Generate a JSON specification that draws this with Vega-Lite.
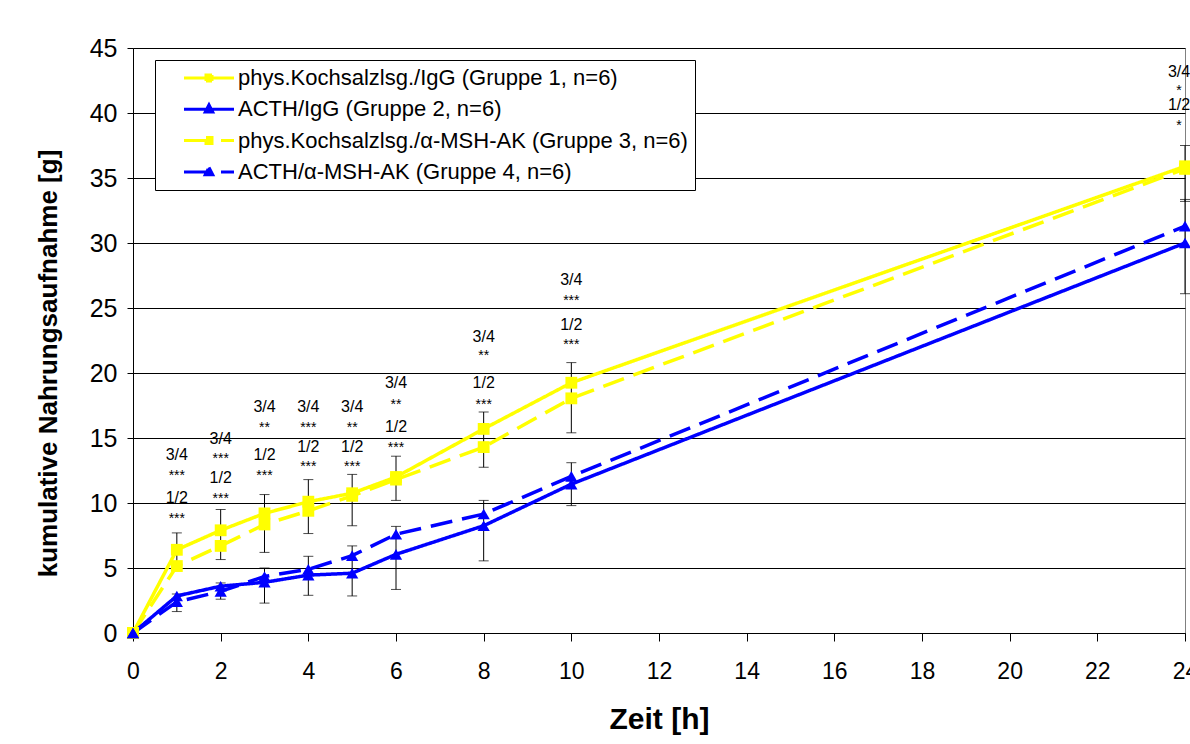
{
  "$schema": "https://vega.github.io/schema/vega-lite/v6.json",
  "width": 1052,
  "height": 585,
  "autosize": "none",
  "padding": {"left": 133, "top": 48, "right": 5, "bottom": 111},
  "background": "white",
  "config": {
    "font": "Liberation Sans",
    "view": {"stroke": "#808080", "strokeWidth": 1}
  },
  "datasets": {
    "main": [
      {"t": 0, "v": 0, "g": "phys.Kochsalzlsg./IgG (Gruppe 1, n=6)"},
      {"t": 1, "v": 6.4, "g": "phys.Kochsalzlsg./IgG (Gruppe 1, n=6)"},
      {"t": 2, "v": 7.9, "g": "phys.Kochsalzlsg./IgG (Gruppe 1, n=6)"},
      {"t": 3, "v": 9.2, "g": "phys.Kochsalzlsg./IgG (Gruppe 1, n=6)"},
      {"t": 4, "v": 10.1, "g": "phys.Kochsalzlsg./IgG (Gruppe 1, n=6)"},
      {"t": 5, "v": 10.75, "g": "phys.Kochsalzlsg./IgG (Gruppe 1, n=6)"},
      {"t": 6, "v": 12.0, "g": "phys.Kochsalzlsg./IgG (Gruppe 1, n=6)"},
      {"t": 8, "v": 15.7, "g": "phys.Kochsalzlsg./IgG (Gruppe 1, n=6)"},
      {"t": 10, "v": 19.25, "g": "phys.Kochsalzlsg./IgG (Gruppe 1, n=6)"},
      {"t": 24, "v": 35.9, "g": "phys.Kochsalzlsg./IgG (Gruppe 1, n=6)"},
      {"t": 0, "v": 0, "g": "phys.Kochsalzlsg./α-MSH-AK (Gruppe 3, n=6)"},
      {"t": 1, "v": 5.15, "g": "phys.Kochsalzlsg./α-MSH-AK (Gruppe 3, n=6)"},
      {"t": 2, "v": 6.7, "g": "phys.Kochsalzlsg./α-MSH-AK (Gruppe 3, n=6)"},
      {"t": 3, "v": 8.35, "g": "phys.Kochsalzlsg./α-MSH-AK (Gruppe 3, n=6)"},
      {"t": 4, "v": 9.4, "g": "phys.Kochsalzlsg./α-MSH-AK (Gruppe 3, n=6)"},
      {"t": 5, "v": 10.55, "g": "phys.Kochsalzlsg./α-MSH-AK (Gruppe 3, n=6)"},
      {"t": 6, "v": 11.8, "g": "phys.Kochsalzlsg./α-MSH-AK (Gruppe 3, n=6)"},
      {"t": 8, "v": 14.3, "g": "phys.Kochsalzlsg./α-MSH-AK (Gruppe 3, n=6)"},
      {"t": 10, "v": 18.05, "g": "phys.Kochsalzlsg./α-MSH-AK (Gruppe 3, n=6)"},
      {"t": 24, "v": 35.7, "g": "phys.Kochsalzlsg./α-MSH-AK (Gruppe 3, n=6)"},
      {"t": 0, "v": 0, "g": "ACTH/α-MSH-AK (Gruppe 4, n=6)"},
      {"t": 1, "v": 2.4, "g": "ACTH/α-MSH-AK (Gruppe 4, n=6)"},
      {"t": 2, "v": 3.2, "g": "ACTH/α-MSH-AK (Gruppe 4, n=6)"},
      {"t": 3, "v": 4.35, "g": "ACTH/α-MSH-AK (Gruppe 4, n=6)"},
      {"t": 4, "v": 4.9, "g": "ACTH/α-MSH-AK (Gruppe 4, n=6)"},
      {"t": 5, "v": 5.95, "g": "ACTH/α-MSH-AK (Gruppe 4, n=6)"},
      {"t": 6, "v": 7.6, "g": "ACTH/α-MSH-AK (Gruppe 4, n=6)"},
      {"t": 8, "v": 9.15, "g": "ACTH/α-MSH-AK (Gruppe 4, n=6)"},
      {"t": 10, "v": 12.05, "g": "ACTH/α-MSH-AK (Gruppe 4, n=6)"},
      {"t": 24, "v": 31.3, "g": "ACTH/α-MSH-AK (Gruppe 4, n=6)"},
      {"t": 0, "v": 0, "g": "ACTH/IgG (Gruppe 2, n=6)"},
      {"t": 1, "v": 2.85, "g": "ACTH/IgG (Gruppe 2, n=6)"},
      {"t": 2, "v": 3.6, "g": "ACTH/IgG (Gruppe 2, n=6)"},
      {"t": 3, "v": 3.9, "g": "ACTH/IgG (Gruppe 2, n=6)"},
      {"t": 4, "v": 4.45, "g": "ACTH/IgG (Gruppe 2, n=6)"},
      {"t": 5, "v": 4.6, "g": "ACTH/IgG (Gruppe 2, n=6)"},
      {"t": 6, "v": 6.05, "g": "ACTH/IgG (Gruppe 2, n=6)"},
      {"t": 8, "v": 8.25, "g": "ACTH/IgG (Gruppe 2, n=6)"},
      {"t": 10, "v": 11.45, "g": "ACTH/IgG (Gruppe 2, n=6)"},
      {"t": 24, "v": 30.0, "g": "ACTH/IgG (Gruppe 2, n=6)"}
    ],
    "err": [
      {"t": 1, "lo": 5.0, "hi": 7.7},
      {"t": 2, "lo": 5.65, "hi": 9.5},
      {"t": 3, "lo": 6.2, "hi": 10.65},
      {"t": 4, "lo": 7.65, "hi": 11.8},
      {"t": 5, "lo": 8.25, "hi": 12.2},
      {"t": 6, "lo": 10.2, "hi": 13.6},
      {"t": 8, "lo": 12.75, "hi": 17.0},
      {"t": 10, "lo": 15.4, "hi": 20.8},
      {"t": 24, "lo": 33.2, "hi": 37.5},
      {"t": 1, "lo": 1.65, "hi": 3.0},
      {"t": 2, "lo": 2.6, "hi": 3.85},
      {"t": 3, "lo": 2.3, "hi": 5.0},
      {"t": 4, "lo": 2.9, "hi": 5.9},
      {"t": 5, "lo": 2.85, "hi": 6.7},
      {"t": 6, "lo": 3.35, "hi": 8.2},
      {"t": 8, "lo": 5.55, "hi": 10.2},
      {"t": 10, "lo": 9.8, "hi": 13.1},
      {"t": 24, "lo": 26.1, "hi": 33.35}
    ],
    "frac": [
      {"t": 1, "y": 13.69, "a": "3/4"}, {"t": 1, "y": 10.38, "a": "1/2"},
      {"t": 2, "y": 14.92, "a": "3/4"}, {"t": 2, "y": 11.92, "a": "1/2"},
      {"t": 3, "y": 17.38, "a": "3/4"}, {"t": 3, "y": 13.69, "a": "1/2"},
      {"t": 4, "y": 17.38, "a": "3/4"}, {"t": 4, "y": 14.31, "a": "1/2"},
      {"t": 5, "y": 17.38, "a": "3/4"}, {"t": 5, "y": 14.31, "a": "1/2"},
      {"t": 6, "y": 19.23, "a": "3/4"}, {"t": 6, "y": 15.85, "a": "1/2"},
      {"t": 8, "y": 22.77, "a": "3/4"}, {"t": 8, "y": 19.23, "a": "1/2"},
      {"t": 10, "y": 27.15, "a": "3/4"}, {"t": 10, "y": 23.69, "a": "1/2"}
    ],
    "star": [
      {"t": 1, "y": 12.31, "a": "***"}, {"t": 1, "y": 9.0, "a": "***"},
      {"t": 2, "y": 13.62, "a": "***"}, {"t": 2, "y": 10.54, "a": "***"},
      {"t": 3, "y": 16.0, "a": "**"}, {"t": 3, "y": 12.31, "a": "***"},
      {"t": 4, "y": 16.0, "a": "***"}, {"t": 4, "y": 13.0, "a": "***"},
      {"t": 5, "y": 16.0, "a": "**"}, {"t": 5, "y": 13.0, "a": "***"},
      {"t": 6, "y": 17.77, "a": "**"}, {"t": 6, "y": 14.46, "a": "***"},
      {"t": 8, "y": 21.54, "a": "**"}, {"t": 8, "y": 17.77, "a": "***"},
      {"t": 10, "y": 25.77, "a": "***"}, {"t": 10, "y": 22.38, "a": "***"}
    ],
    "frac24": [
      {"t": 24, "y": 43.15, "a": "3/4"}, {"t": 24, "y": 40.62, "a": "1/2"}
    ],
    "star24": [
      {"t": 24, "y": 41.92, "a": "*"}, {"t": 24, "y": 39.23, "a": "*"}
    ]
  },
  "layer": [
    {
      "data": {"name": "err"},
      "mark": {"type": "rule", "color": "black", "strokeWidth": 1},
      "encoding": {
        "x": {"field": "t", "type": "quantitative", "scale": {"domain": [0, 24], "nice": false}},
        "y": {"field": "lo", "type": "quantitative", "scale": {"domain": [0, 45], "nice": false}},
        "y2": {"field": "hi"}
      }
    },
    {
      "data": {"name": "err"},
      "mark": {"type": "tick", "orient": "horizontal", "color": "black", "size": 10, "thickness": 1},
      "encoding": {
        "x": {"field": "t", "type": "quantitative"},
        "y": {"field": "lo", "type": "quantitative"}
      }
    },
    {
      "data": {"name": "err"},
      "mark": {"type": "tick", "orient": "horizontal", "color": "black", "size": 10, "thickness": 1},
      "encoding": {
        "x": {"field": "t", "type": "quantitative"},
        "y": {"field": "hi", "type": "quantitative"}
      }
    },
    {
      "data": {"name": "main"},
      "mark": {"type": "line", "strokeWidth": 3.5},
      "encoding": {
        "x": {
          "field": "t", "type": "quantitative", "title": "Zeit [h]",
          "axis": {
            "values": [0, 2, 4, 6, 8, 10, 12, 14, 16, 18, 20, 22, 24],
            "grid": false, "domainColor": "black", "tickColor": "black", "tickSize": 8,
            "labelFontSize": 23, "labelColor": "black",
            "labelPadding": 19, "labelFlush": false,
            "titleFontSize": 30, "titleFontWeight": "bold",
            "titleColor": "black", "titlePadding": 21
          }
        },
        "y": {
          "field": "v", "type": "quantitative", "title": "kumulative Nahrungsaufnahme [g]",
          "axis": {
            "values": [0, 5, 10, 15, 20, 25, 30, 35, 40, 45],
            "grid": true, "gridColor": "black", "gridWidth": 1, "gridOpacity": 1,
            "domainColor": "black", "tickColor": "black", "tickSize": 6,
            "labelFontSize": 25, "labelColor": "black", "labelPadding": 10,
            "titleFontSize": 26, "titleFontWeight": "bold", "titleColor": "black", "titlePadding": 28,
            "titleY": 315
          }
        },
        "color": {
          "field": "g", "type": "nominal",
          "scale": {
            "domain": ["phys.Kochsalzlsg./IgG (Gruppe 1, n=6)", "ACTH/IgG (Gruppe 2, n=6)", "phys.Kochsalzlsg./α-MSH-AK (Gruppe 3, n=6)", "ACTH/α-MSH-AK (Gruppe 4, n=6)"],
            "range": ["#FFFF00", "#0000FF", "#FFFF00", "#0000FF"]
          }
        },
        "strokeDash": {
          "field": "g", "type": "nominal",
          "scale": {
            "domain": ["phys.Kochsalzlsg./IgG (Gruppe 1, n=6)", "ACTH/IgG (Gruppe 2, n=6)", "phys.Kochsalzlsg./α-MSH-AK (Gruppe 3, n=6)", "ACTH/α-MSH-AK (Gruppe 4, n=6)"],
            "range": [[1, 0], [1, 0], [22, 10], [22, 10]]
          },
          "legend": null
        }
      }
    },
    {
      "data": {"name": "main"},
      "transform": [{"filter": {"field": "g", "oneOf": ["phys.Kochsalzlsg./IgG (Gruppe 1, n=6)", "phys.Kochsalzlsg./α-MSH-AK (Gruppe 3, n=6)"]}}],
      "mark": {"type": "point", "filled": true, "opacity": 1, "size": 140, "shape": "square"},
      "encoding": {
        "x": {"field": "t", "type": "quantitative"},
        "y": {"field": "v", "type": "quantitative"},
        "color": {"field": "g", "type": "nominal"}
      }
    },
    {
      "data": {"name": "main"},
      "transform": [{"filter": {"field": "g", "oneOf": ["ACTH/IgG (Gruppe 2, n=6)", "ACTH/α-MSH-AK (Gruppe 4, n=6)"]}}],
      "mark": {"type": "point", "filled": true, "opacity": 1, "size": 150, "shape": "triangle-up"},
      "encoding": {
        "x": {"field": "t", "type": "quantitative"},
        "y": {"field": "v", "type": "quantitative"},
        "color": {"field": "g", "type": "nominal"}
      }
    },
    {
      "data": {"name": "main"},
      "transform": [{"filter": "datum.t < 0"}],
      "mark": {"type": "point", "filled": false, "opacity": 1, "size": 100, "strokeWidth": 3},
      "encoding": {
        "x": {"field": "t", "type": "quantitative"},
        "y": {"field": "v", "type": "quantitative"},
        "color": {
          "field": "g", "type": "nominal",
          "legend": {
            "title": null,
            "orient": "none",
            "legendX": 22,
            "legendY": 12,
            "fillColor": "white",
            "strokeColor": "black",
            "padding": 7,
            "symbolOffset": 36,
            "symbolSize": 100,
            "symbolStrokeWidth": 3,
            "symbolType": "M-5,0H5",
            "labelOffset": 18,
            "labelFontSize": 22,
            "labelColor": "black",
            "labelLimit": 700,
            "rowPadding": 9.3
          }
        },
        "shape": {
          "field": "g", "type": "nominal",
          "scale": {
            "domain": ["phys.Kochsalzlsg./IgG (Gruppe 1, n=6)", "ACTH/IgG (Gruppe 2, n=6)", "phys.Kochsalzlsg./α-MSH-AK (Gruppe 3, n=6)", "ACTH/α-MSH-AK (Gruppe 4, n=6)"],
            "range": ["M-5,0H5M-0.6,-0.6H0.6V0.6H-0.6Z", "M-5,0H5M0,-0.9L0.75,0.55H-0.75Z", "M-5,0H-0.6M2.4,0H5M-0.6,-0.6H0.6V0.6H-0.6Z", "M-5,0H-0.6M2.4,0H5M0,-0.9L0.75,0.55H-0.75Z"]
          },
          "legend": {"title": null}
        }
      }
    },
    {
      "data": {"name": "frac"},
      "mark": {"type": "text", "fontSize": 16, "color": "black", "baseline": "middle", "align": "center"},
      "encoding": {
        "x": {"field": "t", "type": "quantitative"},
        "y": {"field": "y", "type": "quantitative"},
        "text": {"field": "a"}
      }
    },
    {
      "data": {"name": "star"},
      "mark": {"type": "text", "fontSize": 14, "color": "black", "baseline": "middle", "align": "center", "dy": 3},
      "encoding": {
        "x": {"field": "t", "type": "quantitative"},
        "y": {"field": "y", "type": "quantitative"},
        "text": {"field": "a"}
      }
    },
    {
      "data": {"name": "frac24"},
      "mark": {"type": "text", "fontSize": 16, "color": "black", "baseline": "middle", "align": "center", "dx": -6},
      "encoding": {
        "x": {"field": "t", "type": "quantitative"},
        "y": {"field": "y", "type": "quantitative"},
        "text": {"field": "a"}
      }
    },
    {
      "data": {"name": "star24"},
      "mark": {"type": "text", "fontSize": 14, "color": "black", "baseline": "middle", "align": "center", "dy": 3, "dx": -6},
      "encoding": {
        "x": {"field": "t", "type": "quantitative"},
        "y": {"field": "y", "type": "quantitative"},
        "text": {"field": "a"}
      }
    }
  ]
}
